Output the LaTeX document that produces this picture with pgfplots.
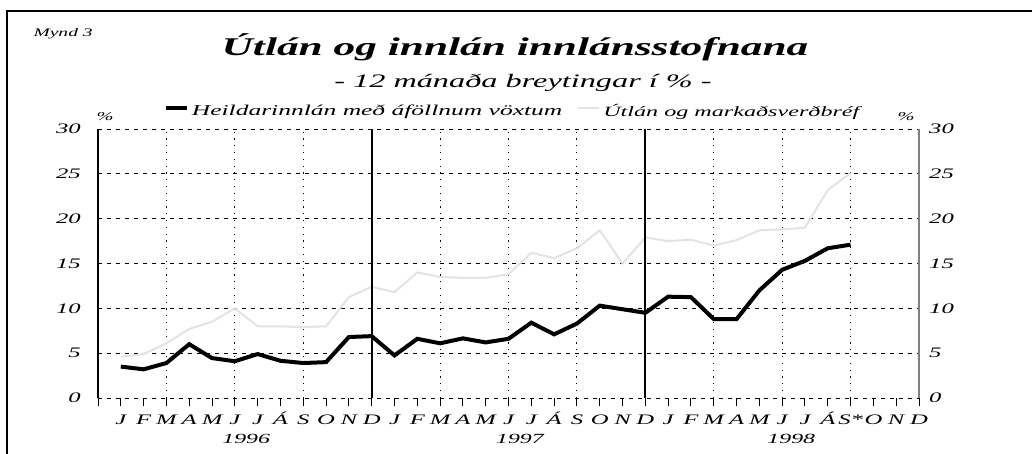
\documentclass[border=0pt]{standalone}
\usepackage{fontspec}
\setmainfont{Liberation Serif}[FakeStretch=1.7]
\usepackage{pgfplots}
\pgfplotsset{compat=1.18}

\newcommand\fs[1]{\fontsize{#1}{#1}\selectfont\itshape}

\begin{document}
\begin{tikzpicture}[x=1pt,y=1pt]
\useasboundingbox (0,0) rectangle (1032,453);
\draw[line width=1.7pt] (7,-5) -- (7,442) -- (1040,442);
\node[anchor=base west, font=\fs{11.5}] at (30,416) {Mynd 3};
\node[anchor=base, font=\fs{25.5}\bfseries] at (515,397) {Útlán og innlán innlánsstofnana};
\node[anchor=base, font=\fs{19}] at (523,365) {- 12 mánaða breytingar í \% -};
\node[font=\fs{12}] at (105,336) {\%};
\node[font=\fs{12}] at (906,336) {\%};

\begin{axis}[
  at={(98pt,55pt)}, anchor=south west,
  width=821pt, height=269pt, scale only axis,
  xmin=0, xmax=36, ymin=0, ymax=30,
  clip=false,
  axis x line*=bottom, axis y line*=left,
  x axis line style={draw=none},
  y axis line style={black, line width=1.3pt},
  xtick={0,...,36},
  xticklabels={,J,F,M,A,M,J,J,Á,S,O,N,D,J,F,M,A,M,J,J,Á,S,O,N,D,J,F,M,A,M,J,J,Á,S*,O,N,D},
  xtick align=outside,
  major tick length=8pt,
  xtick style={black, line width=1pt},
  ytick={0,5,...,30},
  ytick style={draw=none},
  ymajorgrids,
  grid style={black, line width=0.9pt, dash pattern=on 4pt off 5pt},
  extra x ticks={3,6,9,15,18,21,27,30,33},
  extra x tick labels={},
  extra x tick style={grid=major, major grid style={black, line width=1pt, dash pattern=on 1.2pt off 5.6pt}},
  xticklabel style={font=\fs{14.5}, anchor=base, inner sep=0pt, yshift=-18pt},
  yticklabel style={font=\fs{14.5}, anchor=east, inner sep=0pt, xshift=-17pt},
  /pgf/number format/assume math mode=true,
  legend columns=2,
  legend style={at={(0.080,1.066)}, anchor=west, draw=none, fill=none, inner sep=0pt,
    nodes={inner sep=0pt},
    /tikz/every odd column/.append style={column sep=3pt},
    /tikz/every even column/.append style={column sep=15pt}},
  legend image code/.code={\draw[#1] (0pt,3.5pt) -- (21pt,3.5pt);},
]
\addplot[black, line width=4pt] coordinates {
(1,3.5) (2,3.2) (3,3.9) (4,6.0) (5,4.45) (6,4.1) (7,4.9) (8,4.15) (9,3.9) (10,4.0) (11,6.8) (12,6.9)
(13,4.75) (14,6.6) (15,6.1) (16,6.65) (17,6.2) (18,6.6) (19,8.4) (20,7.1) (21,8.3) (22,10.3) (23,9.9) (24,9.5)
(25,11.3) (26,11.25) (27,8.8) (28,8.8) (29,12.0) (30,14.3) (31,15.3) (32,16.7) (33,17.1)};
\addlegendentry{\fs{15}Heildarinnlán með áföllnum vöxtum}
\addplot[black!11, line width=2pt] coordinates {
(1,4.6) (2,4.9) (3,6.1) (4,7.7) (5,8.5) (6,10.0) (7,8.0) (8,8.0) (9,7.9) (10,8.0) (11,11.25) (12,12.4)
(13,11.8) (14,14.0) (15,13.5) (16,13.4) (17,13.4) (18,13.8) (19,16.2) (20,15.6) (21,16.7) (22,18.7) (23,15.0) (24,17.9)
(25,17.5) (26,17.65) (27,17.0) (28,17.6) (29,18.7) (30,18.8) (31,19.0) (32,23.2) (33,25.1)};
\addlegendentry{\fs{14.2}Útlán og markaðsverðbréf}
\node[font=\fs{14}, anchor=base, yshift=-45pt] at (axis cs:6.5,0) {1996};
\node[font=\fs{14}, anchor=base, yshift=-45pt] at (axis cs:18.5,0) {1997};
\node[font=\fs{14}, anchor=base, yshift=-45pt] at (axis cs:30.4,0) {1998};
\end{axis}

\begin{axis}[
  at={(98pt,55pt)}, anchor=south west,
  width=821pt, height=269pt, scale only axis,
  xmin=0, xmax=36, ymin=0, ymax=30,
  axis x line*=bottom, axis y line*=right,
  x axis line style={draw=none},
  y axis line style={gray, line width=1.3pt},
  xtick={12,24}, xticklabels={}, xtick style={draw=none},
  xmajorgrids, grid style={black, line width=1.8pt},
  ytick={0,5,...,30}, ytick style={draw=none},
  yticklabel style={font=\fs{14.5}, anchor=west, inner sep=0pt, xshift=10pt},
  /pgf/number format/assume math mode=true,
]
\end{axis}
\end{tikzpicture}
\end{document}
